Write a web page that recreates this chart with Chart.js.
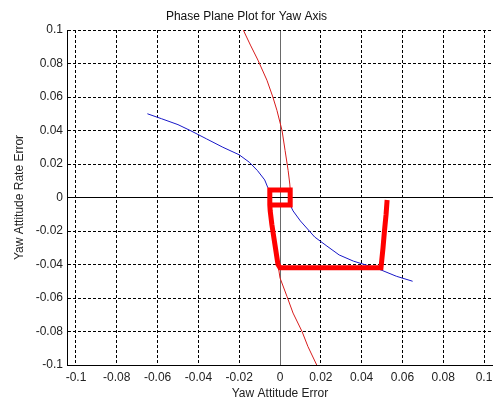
<!DOCTYPE html>
<html>
<head>
<meta charset="utf-8">
<script src="https://cdn.jsdelivr.net/npm/chart.js@4.4.1/dist/chart.umd.min.js"></script>
<style>
  html, body { margin: 0; padding: 0; background: #fff; }
  canvas { display: block; }
</style>
</head>
<body>
<canvas id="phase" width="493" height="401"></canvas>
<script>
// switching curve (blue), broken where it meets the deadband box
const blueX = [-0.065, -0.058, -0.050, -0.044, -0.036, -0.028, -0.020, -0.015, -0.011, -0.0075, -0.006, -0.005, null,
  0.005, 0.0064, 0.010, 0.017, 0.023, 0.029, 0.036, 0.044, 0.050, 0.057, 0.065];
const blueY = [0.050, 0.047, 0.0435, 0.040, 0.035, 0.030, 0.0255, 0.021, 0.016, 0.0105, 0.006, 0.0045, null,
  -0.0045, -0.008, -0.014, -0.0236, -0.029, -0.0343, -0.038, -0.041, -0.0435, -0.047, -0.050];

// deadband curve (thin red), two branches split by null
const curveX = [-0.018, -0.0145, -0.0108, -0.0064, -0.0035, -0.0015, 0.001, 0.0025, 0.004, 0.0048, 0.005, null,
  -0.005, -0.0048, -0.004, -0.0025, -0.001, 0.0, 0.0034, 0.0064, 0.0108, 0.0137, 0.018];
const curveY = [0.100, 0.091, 0.082, 0.070, 0.060, 0.052, 0.040, 0.028, 0.016, 0.008, 0.005, null,
  -0.005, -0.008, -0.016, -0.028, -0.040, -0.048, -0.059, -0.069, -0.080, -0.089, -0.100];

// trajectory (thick red)
const trajX = [0.0525, 0.052, 0.0512, 0.0505, 0.0495, 0.0, -0.001, -0.0025, -0.004, -0.0048, -0.005,
  -0.005, 0.005, 0.005, -0.005];
const trajY = [-0.0015, -0.010, -0.020, -0.030, -0.042, -0.042, -0.040, -0.028, -0.016, -0.008, -0.0045,
  0.0045, 0.0045, -0.0045, -0.0045];

const xTicks = [-0.1, -0.08, -0.06, -0.04, -0.02, 0, 0.02, 0.04, 0.06, 0.08, 0.1];
const xTickLabels = ['-0.1', '-0.08', '-0.06', '-0.04', '-0.02', '0', '0.02', '0.04', '0.06', '0.08', '0.1'];
const yTicks = [-0.1, -0.08, -0.06, -0.04, -0.02, 0, 0.02, 0.04, 0.06, 0.08, 0.1];
const yTickLabels = ['-0.1', '-0.08', '-0.06', '-0.04', '-0.02', '0', '0.02', '0.04', '0.06', '0.08', '0.1'];

const toPts = (xs, ys) => xs.map((x, i) => (x === null ? { x: null, y: null } : { x: x, y: ys[i] }));
const font = { family: 'Liberation Sans, Arial, sans-serif', size: 12 };

function setTicks(values) {
  return function (scale) {
    scale.ticks = values.map(v => ({ value: v }));
  };
}
function tickLabel(labels, values) {
  return function (val) {
    const i = values.findIndex(v => Math.abs(v - val) < 1e-9);
    return i >= 0 ? labels[i] : '';
  };
}

new Chart(document.getElementById('phase').getContext('2d'), {
  type: 'scatter',
  data: {
    datasets: [
      {
        data: toPts(trajX, trajY),
        showLine: true, borderColor: '#ff0000', borderWidth: 5,
        pointRadius: 0, borderJoinStyle: 'miter', borderCapStyle: 'butt', order: 0
      },
      {
        data: toPts(blueX, blueY),
        showLine: true, spanGaps: false, borderColor: '#1818c8', borderWidth: 1,
        pointRadius: 0, order: 1
      },
      {
        data: toPts(curveX, curveY),
        showLine: true, spanGaps: false, borderColor: '#d81c1c', borderWidth: 1,
        pointRadius: 0, order: 2
      }
    ]
  },
  options: {
    responsive: false,
    animation: false,
    layout: { padding: 0 },
    plugins: {
      legend: { display: false },
      tooltip: { enabled: false },
      title: {
        display: true,
        text: 'Phase Plane Plot for Yaw Axis',
        color: '#111',
        font: { family: font.family, size: 12, weight: 'normal', lineHeight: 1.2 },
        padding: { top: 9, bottom: 6.6 }
      }
    },
    scales: {
      x: {
        type: 'linear',
        min: -0.1044,
        max: 0.1044,
        afterBuildTicks: setTicks(xTicks),
        afterFit: function (scale) {
          scale.height = 36;
          scale.paddingLeft = 0;
          scale.paddingRight = 0;
        },
        ticks: {
          autoSkip: false, maxRotation: 0, color: '#222', font: font, padding: 5,
          callback: tickLabel(xTickLabels, xTicks)
        },
        grid: {
          drawTicks: false,
          color: ctx => (ctx.tick && ctx.tick.value === 0 ? '#6a6a6a' : '#000'),
          lineWidth: 1
        },
        border: {
          display: true, color: '#000', width: 1,
          dash: ctx => (ctx.tick && ctx.tick.value !== 0 ? [3, 2] : [])
        },
        title: {
          display: true, text: 'Yaw Attitude Error', color: '#222',
          font: { family: font.family, size: 12, lineHeight: 1.2 },
          padding: { top: 0, bottom: 0 }
        }
      },
      y: {
        type: 'linear',
        min: -0.1,
        max: 0.1,
        afterBuildTicks: setTicks(yTicks),
        afterFit: function (scale) {
          scale.width = 67;
          scale.paddingTop = 0;
          scale.paddingBottom = 0;
        },
        ticks: {
          autoSkip: false, color: '#222', font: font, padding: 4,
          callback: tickLabel(yTickLabels, yTicks)
        },
        grid: {
          drawTicks: false,
          color: '#000',
          lineWidth: 1
        },
        border: {
          display: true, color: '#000', width: 1,
          dash: ctx => (ctx.tick && ctx.tick.value !== 0 ? [3, 2] : [])
        },
        title: {
          display: true, text: 'Yaw Attitude Rate Error', color: '#222',
          font: { family: font.family, size: 12, lineHeight: 1.2 },
          padding: { top: 12.8, bottom: 0 }
        }
      }
    }
  }
});
</script>
</body>
</html>
